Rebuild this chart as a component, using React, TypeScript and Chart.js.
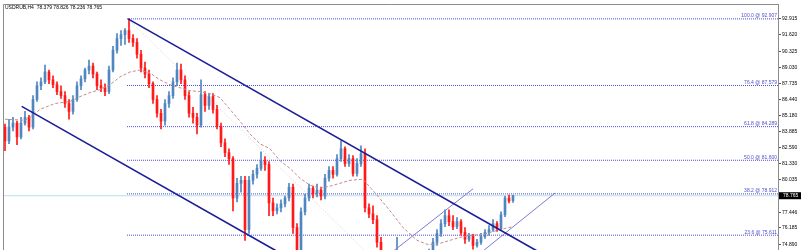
import { useEffect, useRef } from 'react';
import { Chart, registerables } from 'chart.js';

Chart.register(...registerables);

// ---------- DATA ----------
const chartTitle = 'USDRUB,H4  78.379 78.826 78.236 78.765';

const opens = [
  84.25, 83.15, 84.25, 84.57, 83.47, 84.57, 85.04, 84.25, 86.46, 87.56,
  87.87, 88.66, 88.03, 87.64, 87.09, 86.77, 86.14, 85.51, 86.46, 87.56,
  88.11, 88.82, 89.13, 88.50, 87.56, 87.40, 87.09, 88.82, 90.40, 91.34,
  91.65, 91.97, 91.34, 91.03, 90.08, 88.98, 88.50, 87.72, 86.46, 85.36,
  84.73, 86.14, 86.77, 87.87, 88.82, 88.03, 86.77, 85.36, 85.04, 84.41,
  86.85, 85.99, 86.69, 85.67, 84.33, 82.99, 82.21, 81.73, 78.58, 79.76,
  80.00, 76.06, 80.00, 80.47, 80.95, 81.57, 81.26, 78.19, 77.56, 77.80,
  78.11, 78.58, 79.45, 76.22, 74.02, 77.48, 78.58, 79.37, 78.90, 79.21,
  78.74, 80.16, 80.79, 80.47, 81.73, 82.52, 81.34, 81.73, 80.55, 81.34,
  82.13, 77.80, 77.32, 76.85, 75.04, 73.70, 73.07, 73.54, 72.29, 72.76,
  71.57, 71.10, 71.89, 70.94, 70.79, 71.89, 73.07, 74.17, 75.04, 75.75,
  76.53, 77.17, 76.69, 76.30, 76.69, 75.83, 75.28, 75.51, 74.80, 75.04,
  75.51, 75.83, 76.06, 76.53, 76.14, 77.24, 78.58, 78.379,
];
const highs = [
  84.49, 84.88, 85.04, 84.73, 85.04, 85.51, 85.20, 86.77, 87.87, 88.19,
  89.21, 88.82, 88.35, 87.87, 87.56, 87.09, 86.46, 86.77, 87.87, 88.35,
  88.98, 89.61, 89.37, 88.66, 88.03, 87.72, 89.13, 90.71, 91.73, 91.97,
  92.13, 92.907, 91.65, 91.34, 90.40, 89.45, 88.82, 87.87, 86.77, 85.67,
  86.46, 87.09, 88.19, 89.37, 89.29, 88.35, 87.09, 85.83, 85.36, 88.03,
  87.09, 86.93, 86.93, 85.99, 84.57, 83.31, 82.52, 81.89, 80.16, 80.32,
  80.32, 80.32, 80.79, 81.26, 82.28, 81.89, 81.50, 78.58, 78.11, 78.43,
  78.74, 79.76, 79.69, 76.53, 77.80, 78.90, 79.69, 79.53, 79.69, 79.45,
  80.47, 81.10, 81.10, 82.05, 83.15, 82.68, 82.05, 81.97, 81.73, 82.76,
  82.52, 78.11, 77.95, 77.17, 75.43, 74.25, 74.02, 73.86, 75.43, 73.07,
  72.05, 72.29, 72.13, 71.50, 72.13, 73.39, 74.49, 75.36, 76.06, 76.85,
  77.64, 77.64, 77.17, 77.01, 76.85, 76.22, 75.75, 75.67, 75.28, 75.75,
  76.06, 76.38, 76.85, 76.69, 77.48, 78.74, 78.82, 78.826,
];
const lows = [
  82.36, 82.92, 83.94, 82.84, 83.31, 84.41, 83.94, 84.10, 86.30, 87.25,
  87.72, 87.72, 87.40, 86.85, 86.54, 85.83, 84.88, 85.28, 86.30, 87.25,
  87.87, 88.50, 88.19, 87.25, 87.09, 86.77, 86.93, 88.66, 90.16, 90.79,
  90.87, 91.03, 90.71, 89.76, 88.66, 88.19, 87.40, 86.14, 85.04, 84.10,
  84.41, 85.83, 86.54, 87.56, 87.72, 86.46, 85.04, 84.57, 83.70, 84.25,
  85.51, 85.67, 85.36, 84.10, 82.68, 81.89, 81.26, 77.56, 78.27, 79.05,
  75.20, 75.75, 79.69, 80.16, 80.79, 80.79, 77.17, 77.17, 77.32, 77.48,
  77.87, 78.35, 75.75, 73.23, 73.70, 77.24, 78.35, 78.58, 78.66, 78.43,
  78.50, 79.92, 80.16, 80.32, 81.50, 81.10, 81.10, 80.32, 80.32, 81.10,
  77.48, 77.01, 76.53, 74.65, 73.39, 72.67, 72.83, 71.97, 72.05, 71.34,
  70.87, 70.94, 70.71, 70.293, 70.63, 71.65, 72.83, 73.94, 74.80, 75.51,
  76.30, 76.38, 76.06, 76.14, 75.59, 74.96, 75.12, 74.49, 74.65, 74.88,
  75.36, 75.59, 75.91, 75.91, 75.99, 77.09, 78.19, 78.236,
];
const closes = [
  83.15, 84.25, 84.57, 83.47, 84.57, 85.04, 84.25, 86.46, 87.56, 87.87,
  88.66, 88.03, 87.64, 87.09, 86.77, 86.14, 85.51, 86.46, 87.56, 88.11,
  88.82, 89.13, 88.50, 87.56, 87.40, 87.09, 88.82, 90.40, 91.34, 91.65,
  91.97, 91.34, 91.03, 90.08, 88.98, 88.50, 87.72, 86.46, 85.36, 84.73,
  86.14, 86.77, 87.87, 88.82, 88.03, 86.77, 85.36, 85.04, 84.41, 86.85,
  85.99, 86.69, 85.67, 84.33, 82.99, 82.21, 81.73, 78.58, 79.76, 80.00,
  76.06, 80.00, 80.47, 80.95, 81.57, 81.26, 78.19, 77.56, 77.80, 78.11,
  78.58, 79.45, 76.22, 74.02, 77.48, 78.58, 79.37, 78.90, 79.21, 78.74,
  80.16, 80.79, 80.47, 81.73, 82.52, 81.34, 81.73, 80.55, 81.34, 82.13,
  77.80, 77.32, 76.85, 75.04, 73.70, 73.07, 73.54, 72.29, 72.76, 71.57,
  71.10, 71.89, 70.94, 70.79, 71.89, 73.07, 74.17, 75.04, 75.75, 76.53,
  77.17, 76.69, 76.30, 76.69, 75.83, 75.28, 75.51, 74.80, 75.04, 75.51,
  75.83, 76.06, 76.53, 76.14, 77.24, 78.58, 78.35, 78.765,
];

// moving average, bar index -> value
const maBars = [
  0, 5, 6.25, 8.75, 12.5, 16.25, 18.75, 21.25, 23.75, 26.25, 28.75, 31.25,
  33.75, 36.25, 38.75, 41.25, 43.75, 46.25, 48.75, 51.25, 53.75, 56.25,
  58.75, 61.25, 63.75, 66.25, 68.75, 71.25, 73.75, 76.25, 78.75, 81.25,
  83.75, 86.25, 89.5, 93, 96.25, 99.5, 103, 105.5, 108, 111.25, 113.75,
  116.25, 119.5, 123, 127,
];
const maValues = [
  84.88, 84.80, 85.04, 85.67, 86.14, 86.30, 86.69, 87.01, 87.25, 87.64,
  88.27, 88.66, 88.82, 88.58, 88.03, 87.64, 87.40, 87.17, 87.09, 86.93,
  86.61, 85.67, 84.73, 83.70, 82.92, 82.52, 81.57, 80.95, 80.16, 79.61,
  79.37, 79.53, 79.76, 80.00, 80.08, 78.82, 77.56, 76.22, 75.20, 74.88,
  74.88, 75.20, 75.43, 75.59, 75.67, 75.99, 76.30,
];

// Fibonacci retracement
const fibLevels = [100.0, 76.4, 61.8, 50.0, 38.2, 23.6];
const fibPrices = [92.907, 87.579, 84.289, 81.6, 78.912, 75.611];
const fibStartBar = 30.5;
const fibDiagBars = [30.75, 103];
const fibDiagValues = [92.907, 70.293];

// trend channel (descending)
const upperChannelBars = [30.75, 150];
const upperChannelValues = [92.907, 71.27];
const lowerChannelBars = [4.175, 80];
const lowerChannelValues = [85.907, 72.15];

// thin ascending channel
const riseLine1Bars = [88, 117];
const riseLine1Values = [72.07, 79.316];
const riseLine2Bars = [112, 137.5];
const riseLine2Values = [72.42, 78.978];

// price axis labels
const yTickValues = [
  92.915, 91.62, 90.325, 89.03, 87.735, 86.44, 85.18, 83.885, 82.59, 81.33,
  80.035, 77.446, 76.185, 74.89,
];
const lastPrice = 78.765;

// ---------- CHART ----------
const X_MIN = -0.5;
const X_MAX = 193.25;
const Y_MAX = 94.096;
const Y_MIN = 68.348;

const BLUE = '#4f86c0';
const RED = '#ff1a1a';
const FONT = 'Liberation Sans';

const pts = (xs: number[], ys: number[]) => xs.map((x, i) => ({ x, y: ys[i] }));

export default function App() {
  const ref = useRef<HTMLCanvasElement>(null);

  useEffect(() => {
    document.body.style.margin = '0';
    const canvas = ref.current!;
    const idx = closes.map((_, i) => i);
    const colors = idx.map((i) => (closes[i] >= opens[i] ? BLUE : RED));

    const lineDs = (label: string, data: any[], color: string, width: number, dash: number[], order: number) => ({
      type: 'line' as const,
      label,
      data,
      borderColor: color,
      borderWidth: width,
      borderDash: dash,
      pointRadius: 0,
      fill: false,
      tension: 0,
      order,
    });

    const fibSets = fibPrices.map((p, k) =>
      lineDs('fib' + fibLevels[k], pts([fibStartBar, X_MAX], [p, p]), '#4f4fe0', 1, [1, 1], 6)
    );

    const overlay = {
      id: 'overlay',
      afterDraw(chart: any) {
        const { ctx, chartArea } = chart;
        const y = chart.scales.y;
        ctx.save();
        // frame
        ctx.strokeStyle = '#8c8c8c';
        ctx.lineWidth = 1;
        ctx.beginPath();
        ctx.moveTo(chartArea.left + 0.5, chartArea.bottom);
        ctx.lineTo(chartArea.left + 0.5, chartArea.top + 0.5);
        ctx.lineTo(chartArea.right, chartArea.top + 0.5);
        ctx.stroke();
        // title
        ctx.fillStyle = '#000';
        ctx.font = `5px "${FONT}"`;
        ctx.textBaseline = 'middle';
        ctx.textAlign = 'left';
        ctx.fillText(chartTitle, chartArea.left + 2, chartArea.top + 3.5);
        // fib labels
        ctx.fillStyle = '#5050c8';
        ctx.textAlign = 'right';
        ctx.textBaseline = 'bottom';
        fibPrices.forEach((p, k) => {
          const py = y.getPixelForValue(p);
          ctx.fillText(`${fibLevels[k].toFixed(1)} @ ${p.toFixed(3)}`, chartArea.right - 1, py - 0.5);
        });
        // last price box
        const py = y.getPixelForValue(lastPrice);
        ctx.fillStyle = '#000';
        ctx.fillRect(chartArea.right + 1, py - 3.5, 22, 7);
        ctx.fillStyle = '#fff';
        ctx.textAlign = 'left';
        ctx.textBaseline = 'middle';
        ctx.fillText(lastPrice.toFixed(3), chartArea.right + 5, py);
        ctx.restore();
      },
    };

    const chart = new Chart(canvas, {
      type: 'bar',
      data: {
        datasets: [
          lineDs('upper', pts(upperChannelBars, upperChannelValues), '#1c1c9a', 1.6, [], 0),
          lineDs('lower', pts(lowerChannelBars, lowerChannelValues), '#1c1c9a', 1.6, [], 0),
          lineDs('rise1', pts(riseLine1Bars, riseLine1Values), '#7a7ad8', 1, [], 0),
          lineDs('rise2', pts(riseLine2Bars, riseLine2Values), '#7a7ad8', 1, [], 0),
          lineDs('ma', pts(maBars, maValues), '#c48a8a', 1, [3, 2], 1),
          {
            type: 'bar' as const,
            label: 'bodies',
            data: idx.map((i) => ({ x: i, y: [opens[i], closes[i]] })),
            backgroundColor: colors,
            borderWidth: 0,
            barThickness: 2,
            minBarLength: 1,
            grouped: false,
            order: 2,
          },
          {
            type: 'bar' as const,
            label: 'wicks',
            data: idx.map((i) => ({ x: i, y: [lows[i], highs[i]] })),
            backgroundColor: colors,
            borderWidth: 0,
            barThickness: 1,
            grouped: false,
            order: 3,
          },
          lineDs('price', pts([X_MIN, X_MAX], [lastPrice, lastPrice]), '#b4e2ea', 1, [], 7),
          lineDs('fibdiag', pts(fibDiagBars, fibDiagValues), '#d0d0d0', 1, [1, 2], 7),
          ...fibSets,
        ] as any,
      },
      options: {
        animation: false,
        responsive: false,
        devicePixelRatio: 1,
        layout: { padding: { left: 3, top: 3, right: 0, bottom: 0 } },
        plugins: { legend: { display: false }, tooltip: { enabled: false } },
        scales: {
          x: { type: 'linear', display: false, min: X_MIN, max: X_MAX, offset: false },
          y: {
            position: 'right',
            min: Y_MIN,
            max: Y_MAX,
            afterBuildTicks: (s: any) => {
              s.ticks = yTickValues.map((v) => ({ value: v }));
            },
            afterFit: (s: any) => {
              s.width = 23;
            },
            ticks: {
              autoSkip: false,
              color: '#000',
              padding: 1,
              font: { size: 5, family: FONT },
              callback: (v: any) => Number(v).toFixed(3),
            },
            grid: { drawOnChartArea: false, drawTicks: true, tickLength: 3, color: '#555', lineWidth: 1 },
            border: { display: true, color: '#8c8c8c', width: 1 },
          },
        },
      },
      plugins: [overlay],
    });
    return () => chart.destroy();
  }, []);

  return (
    <div style={{ width: 801, height: 250, overflow: 'hidden', background: '#fff' }}>
      <canvas ref={ref} width={801} height={330} style={{ display: 'block' }} />
    </div>
  );
}
